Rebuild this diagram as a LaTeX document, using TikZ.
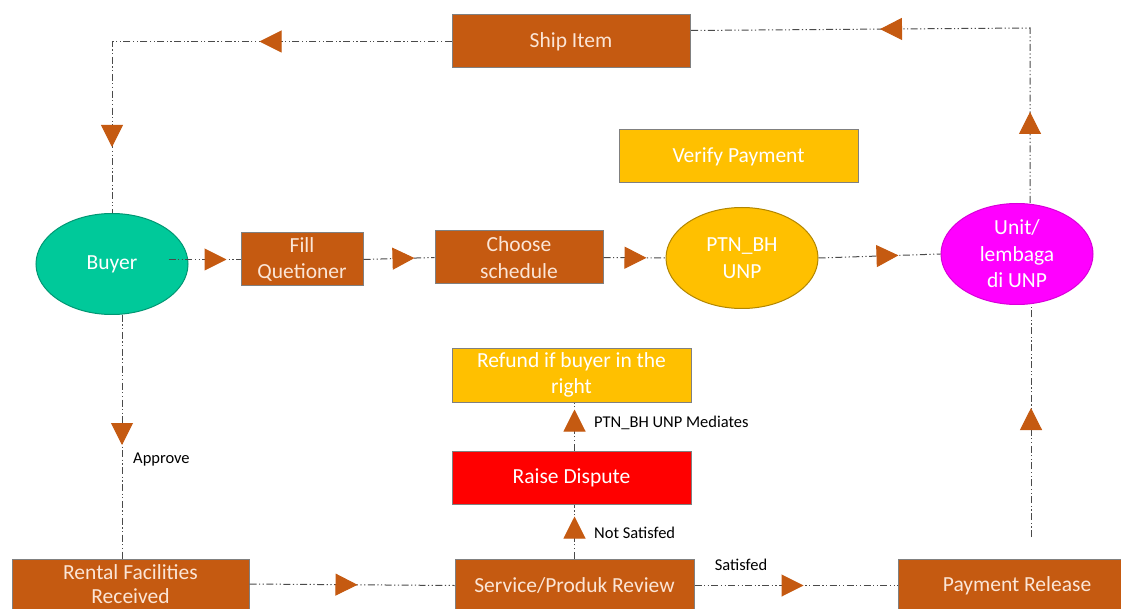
\documentclass[tikz,border=0pt]{standalone}
\usepackage{fontspec}
\setmainfont{Carlito}
\usetikzlibrary{arrows.meta,decorations.markings,shapes.geometric}
\definecolor{boxorange}{HTML}{C55A11}
\definecolor{arrorange}{HTML}{C55A11}
\definecolor{boxyellow}{HTML}{FFC000}
\definecolor{boxred}{HTML}{FF0000}
\definecolor{teal2}{HTML}{00C99A}
\definecolor{magenta2}{HTML}{FF00FF}
\definecolor{linegrey}{HTML}{4A4A4A}
\definecolor{edgegrey}{HTML}{808080}
\definecolor{cream}{HTML}{FBE5D6}
\tikzset{
  every node/.style={inner sep=0pt, align=center, text=white, font=\fontsize{21.5}{26.5}\selectfont},
  box/.style={rectangle, draw=edgegrey, line width=1pt, minimum height=53pt},
  obox/.style={box, fill=boxorange, text=cream},
  oval/.style={ellipse, line width=1pt, minimum width=152pt, minimum height=101pt},
  flow/.style={draw=linegrey, line width=1pt, dash pattern=on 7pt off 2.5pt on 1.2pt off 2.5pt on 1.2pt off 2.5pt},
  tipat/.style={postaction={decorate}, decoration={markings, mark=at position #1 with {\arrow{Triangle[length=22pt,width=22pt,fill=arrorange,color=arrorange]}}}},
  tipat2/.style 2 args={postaction={decorate}, decoration={markings,
     mark=at position #1 with {\arrow{Triangle[length=22pt,width=22pt,fill=arrorange,color=arrorange]}},
     mark=at position #2 with {\arrow{Triangle[length=22pt,width=22pt,fill=arrorange,color=arrorange]}}}},
  lbl/.style={text=black, font=\fontsize{16.5}{20}\selectfont}
}
\begin{document}
\begin{tikzpicture}[x=1pt,y=-1pt]
\useasboundingbox (0,0) rectangle (1121,609);
\clip (0,0) rectangle (1121,609);
\fill[white] (0,0) rectangle (1121,609);
% nodes
\node[obox, minimum width=238pt] (ship) at (571,41.5) {Ship Item};
\node[box, fill=boxyellow, minimum width=239pt] (verify) at (738.5,156.5) {Verify Payment};
\node[oval, fill=teal2, draw=teal2!75!black] (buyer) at (112,264) {Buyer};
\node[obox, minimum width=122pt] (fill) at (302,259.5) {Fill\\Quetioner};
\node[obox, minimum width=168pt] (choose) at (519,257.5) {Choose\\schedule};
\node[oval, fill=boxyellow, draw=boxyellow!70!black] (ptn) at (742,258) {PTN\_BH\\UNP};
\node[oval, fill=magenta2, draw=magenta2!85!black] (unit) at (1017,254) {Unit/\\lembaga\\di UNP};
\node[box, fill=boxyellow, minimum width=239pt, minimum height=54pt] (refund) at (571.5,375) {Refund if buyer in the\\right};
\node[box, fill=boxred, minimum width=239pt] (raise) at (571.5,477.5) {Raise Dispute};
\node[obox, minimum width=237pt, minimum height=50pt, font=\fontsize{21.5}{24.5}\selectfont] (rental) at (130.5,584) {Rental Facilities\\Received};
\node[obox, minimum width=239pt] (service) at (574.5,585.5) {Service/Produk Review};
\node[obox, minimum width=238pt] (payment) at (1017,585.5) {Payment Release};
% helper coordinates
\coordinate (ucorner) at (1030,28);
\coordinate (paytop) at (1031,537);
% connectors
\draw[flow, tipat2={192pt}{445pt}] (ship.west) -| (buyer.north);
\draw[flow, tipat=58pt] ([xshift=-20pt]buyer.east |- fill.west) -- (fill.west);
\draw[flow, tipat=51pt] (fill.east) -- (choose.west);
\draw[flow, tipat=43pt] (choose.east) -- (ptn.west);
\draw[flow, tipat=80pt] (ptn.east) -- (unit.west);
\draw[flow, tipat2={91pt}{325pt}] ([xshift=13pt]unit.north) -- (ucorner) -- ([yshift=11pt]ship.east);
\draw[flow, tipat=130pt] ([xshift=10pt]buyer.south) -- ([xshift=10pt]buyer.south |- rental.north);
\draw[flow, tipat=108pt] (rental.east) -- (service.west);
\draw[flow, tipat=109pt] (service.east) -- (payment.west);
\draw[flow, tipat=42pt] (service.north) -- (service.north |- raise.south);
\draw[flow, tipat=41pt] (service.north |- raise.north) -- (service.north |- refund.south);
\draw[flow, tipat=129pt] (paytop) -- ([xshift=14pt]unit.south);
% labels
\node[lbl, anchor=west] (lapprove) at (133,460) {Approve};
\node[lbl] (lsat) at (741,565) {Satisfed};
\node[lbl, anchor=west] (lnot) at (594,533) {Not Satisfed};
\node[lbl, anchor=west] (lmed) at (594,423) {PTN\_BH UNP Mediates};
\end{tikzpicture}
\end{document}
